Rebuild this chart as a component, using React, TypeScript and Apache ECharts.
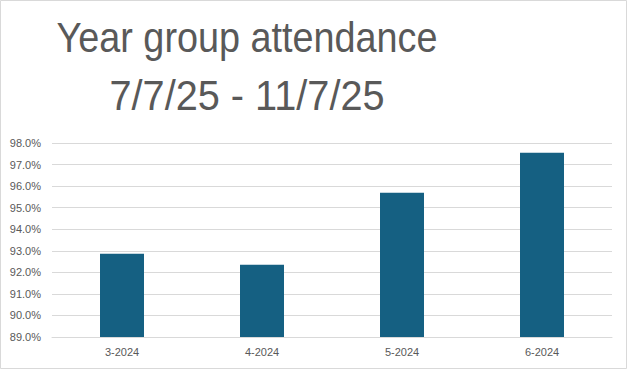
import React, { useEffect, useRef } from "react";
import * as echarts from "echarts";

const categories = ["3-2024", "4-2024", "5-2024", "6-2024"];
const attendance = [92.86, 92.35, 95.69, 97.55];
const titleLines = ["Year group attendance", "7/7/25 - 11/7/25"];
const yMin = 89;
const yMax = 98;
const yStep = 1;

export default function App() {
  const ref = useRef<HTMLDivElement>(null);
  useEffect(() => {
    if (!ref.current) return;
    const chart = echarts.init(ref.current, undefined, { renderer: "svg" });
    const titleFont = '42px "Liberation Sans", Arial, sans-serif';
    const lineScale = [0.9, 0.945];
    chart.setOption({
      animation: false,
      backgroundColor: "#ffffff",
      graphic: [
        {
          type: "rect",
          shape: { x: 0.5, y: 0.5, width: 626, height: 368 },
          style: { fill: "none", stroke: "#d9d9d9", lineWidth: 1 },
          silent: true,
        },
        ...titleLines.map((line, i) => ({
          type: "text",
          x: 247,
          y: 37 + i * 59,
          scaleX: lineScale[i],
          silent: true,
          style: {
            text: line,
            fill: "#595959",
            font: titleFont,
            align: "center",
            verticalAlign: "middle",
          },
        })),
      ],
      grid: { left: 52, right: 16, top: 143, bottom: 32 },
      xAxis: {
        type: "category",
        data: categories,
        axisLine: { lineStyle: { color: "#d9d9d9" } },
        axisTick: { show: false },
        axisLabel: {
          color: "#595959",
          fontSize: 11,
          fontFamily: '"Liberation Sans", sans-serif',
          margin: 9,
        },
      },
      yAxis: {
        type: "value",
        min: yMin,
        max: yMax,
        interval: yStep,
        axisLine: { show: false },
        axisTick: { show: false },
        splitLine: { lineStyle: { color: "#d9d9d9" } },
        axisLabel: {
          color: "#595959",
          fontSize: 11,
          fontFamily: '"Liberation Sans", sans-serif',
          margin: 11,
          formatter: (v: number) => v.toFixed(1) + "%",
        },
      },
      series: [
        {
          type: "bar",
          data: attendance,
          barWidth: 44,
          itemStyle: { color: "#156082" },
        },
      ],
    });
    return () => chart.dispose();
  }, []);
  return (
    <div
      ref={ref}
      style={{ position: "absolute", left: 0, top: 0, width: 628, height: 369 }}
    />
  );
}
